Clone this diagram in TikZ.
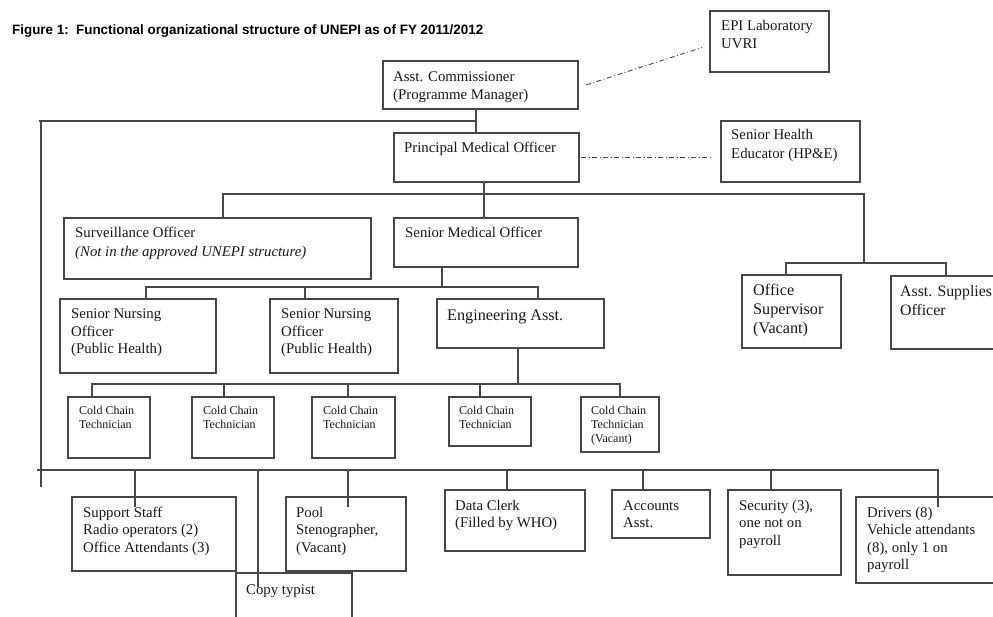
\documentclass[tikz,border=0pt]{standalone}
\usepackage{graphicx}
\usepackage{fontspec}
\setmainfont{Liberation Serif}
\newfontfamily\titlefont{Liberation Sans}
\usetikzlibrary{calc}
\tikzset{
 ln/.style={line width=1.2pt, draw=black!72},
 bx/.style={draw=black!72, line width=1.3pt, anchor=north west, inner sep=0pt, outer sep=0pt},
 tx/.style={anchor=base west, inner sep=0pt, text=black!90, font=\fontsize{14.8}{17.5}\selectfont},
 txs/.style={tx, font=\fontsize{12}{14.3}\selectfont},
 txl/.style={tx, font=\fontsize{16.2}{18.7}\selectfont},
 dd/.style={draw=black!72, line width=0.9pt, dash pattern=on 5pt off 2.5pt on 1pt off 2.5pt},
}
\newcommand{\ml}[1]{\begin{tabular}[t]{@{}l@{}}#1\end{tabular}}
\newcommand{\bxn}[5]{\node[bx, minimum width=#4-#2, minimum height=#5-#3] (#1) at (#2,#3) {};}
\begin{document}
\begin{tikzpicture}[x=1pt,y=-1pt]
\useasboundingbox (0,0) rectangle (993,617);
\clip (0,0) rectangle (993,617);
\node[anchor=base west, inner sep=0pt] (title) at (12,34.5) {\resizebox{471pt}{\height}{\titlefont\bfseries\fontsize{13.6}{16}\selectfont Figure 1:\ \ Functional organizational structure of UNEPI as of FY 2011/2012}};
% boxes
\bxn{acm}{383}{61}{578}{109}
\bxn{epi}{710}{11}{829}{72}
\bxn{pmo}{394}{133}{579}{182}
\bxn{she}{721}{121}{860}{182}
\bxn{surv}{64}{218}{371}{279}
\bxn{smo}{394}{218}{578}{267}
\bxn{sno1}{60}{299}{216}{373}
\bxn{sno2}{270}{299}{398}{373}
\bxn{eng}{437}{299}{604}{348}
\bxn{osup}{742}{275}{841}{348}
\bxn{asup}{891}{276}{1010}{349}
\bxn{cc1}{68}{397}{150}{458}
\bxn{cc2}{192}{397}{274}{458}
\bxn{cc3}{312}{397}{395}{458}
\bxn{cc4}{449}{397}{531}{446}
\bxn{cc5}{581}{397}{659}{452}
\bxn{sup}{72}{497}{236}{571}
\bxn{copy}{236}{573}{352}{640}
\bxn{pool}{286}{497}{406}{571}
\bxn{dc}{445}{490}{585}{551}
\bxn{acc}{612}{490}{710}{538}
\bxn{sec}{728}{490}{841}{575}
\bxn{drv}{856}{497}{1010}{583}
% texts
\node[tx] (acmt) at (393,82) {\ml{Asst. Commissioner\\(Programme Manager)}};
\node[tx] (epit) at (721,31) {\ml{EPI Laboratory\\UVRI}};
\node[tx] (pmot) at (404,153) {Principal Medical Officer};
\node[tx, font=\fontsize{14.8}{19}\selectfont] (shet) at (731,140) {\ml{Senior Health\\Educator (HP\&E)}};
\node[tx, font=\fontsize{14.8}{19}\selectfont] (survt) at (75,238) {\ml{Surveillance Officer\\\textit{(Not in the approved UNEPI structure)}}};
\node[tx] (smot) at (405,238) {Senior Medical Officer};
\node[tx] (sno1t) at (71,319) {\ml{Senior Nursing\\Officer\\(Public Health)}};
\node[tx] (sno2t) at (281,319) {\ml{Senior Nursing\\Officer\\(Public Health)}};
\node[txl] (engt) at (447,321) {Engineering Asst.};
\node[txl] (osupt) at (753,296) {\ml{Office\\Supervisor\\(Vacant)}};
\node[txl, font=\fontsize{15.8}{18.7}\selectfont] (asupt) at (900,297) {\ml{Asst. Supplies\\Officer}};
\node[txs] (cc1t) at (79,414) {\ml{Cold Chain\\Technician}};
\node[txs] (cc2t) at (203,414) {\ml{Cold Chain\\Technician}};
\node[txs] (cc3t) at (323,414) {\ml{Cold Chain\\Technician}};
\node[txs] (cc4t) at (459,414) {\ml{Cold Chain\\Technician}};
\node[txs] (cc5t) at (591,414) {\ml{Cold Chain\\Technician\\(Vacant)}};
\node[tx] (supt) at (83,517) {\ml{Support Staff\\Radio operators (2)\\Office Attendants (3)}};
\node[tx] (poolt) at (296,517) {\ml{Pool\\Stenographer,\\(Vacant)}};
\node[tx] (copyt) at (246,594) {Copy typist};
\node[tx] (dct) at (455,510) {\ml{Data Clerk\\(Filled by WHO)}};
\node[tx] (acct) at (623,510) {\ml{Accounts\\Asst.}};
\node[tx] (sect) at (739,510) {\ml{Security (3),\\one not on\\payroll}};
\node[tx] (drvt) at (867,517) {\ml{Drivers (8)\\Vehicle attendants\\(8), only 1 on\\payroll}};
% connectors
\coordinate (tbl) at (39,121);
\coordinate (tbr) at (476,121);
\coordinate (lvt) at (41,121);
\coordinate (lvb) at (41,487);
\coordinate (bbl) at (37,470);
\coordinate (bbr) at (938,470);
\draw[ln] (476,0 |- acm.south) -- (476,0 |- pmo.north);
\draw[ln] (tbl) -- (tbr);
\draw[ln] (lvt) -- (lvb);
\draw[dd] ($(acm.east)+(8,0)$) -- ($(epi.west)+(-8,6)$);
\draw[dd] ($(pmo.east)+(2,0)$) -- ($(she.west |- pmo.east)+(-8,0)$);
\draw[ln] (484,0 |- pmo.south) -- (484,0 |- smo.north);
\draw[ln] (223,0 |- surv.north) |- (864,194) -- (864,263);
\draw[ln] (786,0 |- osup.north) |- (946,263) -- (946,0 |- asup.north);
\draw[ln] (442,0 |- smo.south) -- (442,287);
\draw[ln] (146,0 |- sno1.north) |- (538,287) -- (538,0 |- eng.north);
\draw[ln] (305,0 |- sno2.north) -- (305,287);
\draw[ln] (518,0 |- eng.south) -- (518,384);
\draw[ln] (92,0 |- cc1.north) |- (620,384) -- (620,0 |- cc5.north);
\draw[ln] (224,0 |- cc2.north) -- (224,384);
\draw[ln] (348,0 |- cc3.north) -- (348,384);
\draw[ln] (480,0 |- cc4.north) -- (480,384);
\draw[ln] (bbl) -- (bbr) -- ($(938,0 |- drv.north)+(0,10)$);
\draw[ln] (135,470) -- ($(135,0 |- sup.north)+(0,10)$);
\draw[ln] (258,470) -- ($(258,0 |- copy.north)+(0,14)$);
\draw[ln] (348,470) -- ($(348,0 |- pool.north)+(0,10)$);
\draw[ln] (507,470) -- (507,0 |- dc.north);
\draw[ln] (643,470) -- (643,0 |- acc.north);
\draw[ln] (771,470) -- (771,0 |- sec.north);
\end{tikzpicture}
\end{document}
